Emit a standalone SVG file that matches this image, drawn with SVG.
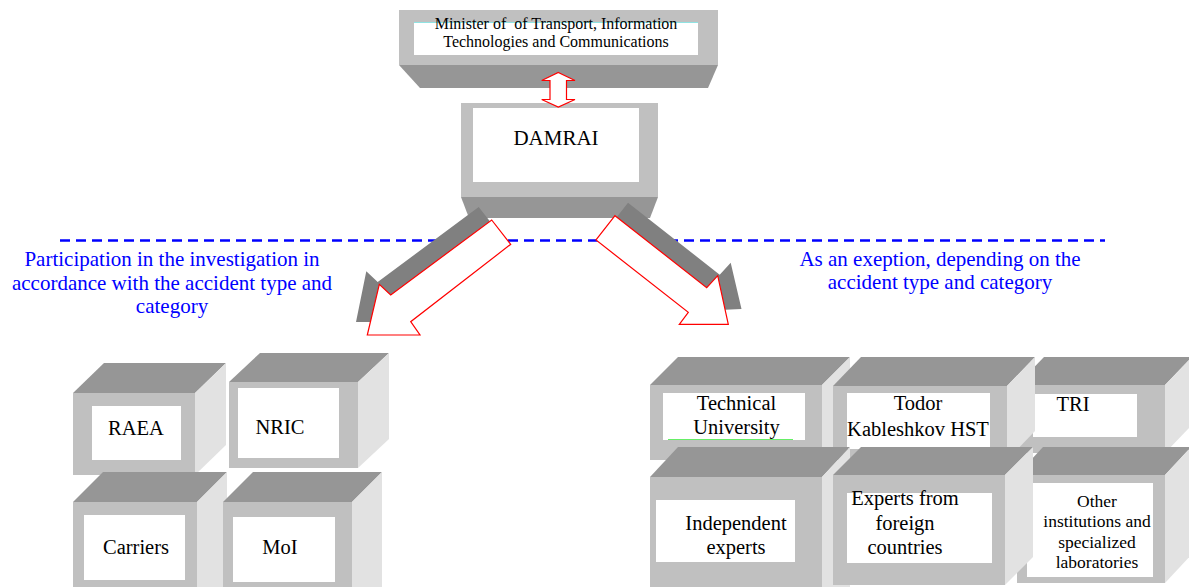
<svg xmlns="http://www.w3.org/2000/svg" width="1189" height="587" viewBox="0 0 1189 587">
<style>
.front{fill:#c0c0c0}
.top{fill:#969696}
.side{fill:#e2e2e2}
.inner{fill:#ffffff}
.lbl{font-family:"Liberation Serif","Times New Roman",serif;font-size:20.5px;fill:#000;text-anchor:middle}
.small{font-size:17.5px}
.blue{font-family:"Liberation Serif","Times New Roman",serif;font-size:21px;fill:#0000ff;text-anchor:middle}
.shadow{fill:#808080}
.arrow{fill:#ffffff;stroke:#ff0000;stroke-width:1.2;stroke-linejoin:miter}
.sep{stroke:#0000ff;stroke-width:2.6;stroke-dasharray:10 6;fill:none}
</style>
<rect width="1189" height="587" fill="#ffffff"/>

<line class="sep" x1="60" y1="240.5" x2="1105" y2="240.5"/>

<g id="minister">
  <rect class="front" x="399" y="10" width="319" height="55"/>
  <polygon class="top" points="399,65 718,65 708,88 420,88"/>
  <rect class="inner" x="414" y="22" width="284" height="33"/>
  <line x1="414" y1="22.5" x2="698" y2="22.5" stroke="#8fe3e3" stroke-width="1"/>
  <text class="lbl" style="font-size:16px;white-space:pre" xml:space="preserve" x="556" y="28.5">Minister of  of Transport, Information</text>
  <text class="lbl" style="font-size:16px" x="556" y="47">Technologies and Communications</text>
</g>

<g id="damrai">
  <rect class="front" x="461" y="103" width="197" height="94"/>
  <polygon class="top" points="461,197 658,197 650,218 469,218"/>
  <rect class="inner" x="473" y="108" width="166" height="74"/>
  <text class="lbl" style="font-size:21px" x="556" y="145">DAMRAI</text>
</g>

<g id="connectors">
  <polygon class="arrow" points="558.3,72.5 575,80.5 566.5,80.5 566.5,99.5 575,99.5 558.3,107 541.7,99.5 550,99.5 550,80.5 541.7,80.5"/>
  <polygon class="shadow" points="478.7,207 497.7,231.3 397.7,308.7 407,322 356,322 366.3,271.3 377.7,282"/>
  <polygon class="arrow" points="491.7,220 510.7,244.3 410.7,321.7 420,335 367.3,335 379.3,284.3 390.7,295"/>
  <polygon class="shadow" points="628,202.7 719.7,274.7 730.7,262.7 741.5,309 692.3,311.3 701.3,299.3 609,227"/>
  <polygon class="arrow" points="615,215.7 706.7,287.7 717.7,275.7 728.3,324.3 679.3,324.3 688.3,312.3 596,240"/>
</g>

<g id="label-left">
  <text class="blue" x="172" y="266">Participation in the investigation in</text>
  <text class="blue" x="172" y="290">accordance with the accident type and</text>
  <text class="blue" x="172" y="313">category</text>
</g>
<g id="label-right">
  <text class="blue" x="940" y="266">As an exeption, depending on the</text>
  <text class="blue" x="940" y="289">accident type and category</text>
</g>

<g id="raea">
  <polygon class="top" points="73,393 104,363 226,363 195,393"/>
  <polygon class="side" points="195,393 226,363 226,445 195,475"/>
  <rect class="front" x="73" y="393" width="122" height="82"/>
  <rect class="inner" x="92" y="406" width="89" height="54"/>
  <text class="lbl" x="136" y="435">RAEA</text>
</g>
<g id="nric">
  <polygon class="top" points="229,382 260,353 389,353 358,382"/>
  <polygon class="side" points="358,382 389,353 389,439 358,468"/>
  <rect class="front" x="229" y="382" width="129" height="86"/>
  <rect class="inner" x="238" y="388" width="101" height="70"/>
  <text class="lbl" x="280" y="434">NRIC</text>
</g>
<g id="carriers">
  <polygon class="top" points="73,502 103,472 227,472 197,502"/>
  <polygon class="side" points="197,502 227,472 227,587 197,592"/>
  <rect class="front" x="73" y="502" width="124" height="90"/>
  <rect class="inner" x="84" y="515" width="101" height="65"/>
  <text class="lbl" x="136" y="554">Carriers</text>
</g>
<g id="moi">
  <polygon class="top" points="223,502 253,472 382,472 352,502"/>
  <polygon class="side" points="352,502 382,472 382,587 352,592"/>
  <rect class="front" x="223" y="502" width="129" height="90"/>
  <rect class="inner" x="233" y="517" width="102" height="65"/>
  <text class="lbl" x="280" y="554">MoI</text>
</g>

<g id="tri">
  <polygon class="top" points="1017,385 1044,357 1192,357 1165,385"/>
  <polygon class="side" points="1165,385 1192,357 1192,425 1165,453"/>
  <rect class="front" x="1017" y="385" width="148" height="68"/>
  <rect class="inner" x="1033" y="394" width="104" height="43"/>
  <text class="lbl" x="1073" y="410.5">TRI</text>
</g>
<g id="technical-university">
  <polygon class="top" points="650,385 678,357 850,357 822,385"/>
  <polygon class="side" points="822,385 850,357 850,432 822,460"/>
  <rect class="front" x="650" y="385" width="172" height="75"/>
  <rect class="inner" x="663" y="393" width="142" height="47"/>
  <line x1="668" y1="439.5" x2="793" y2="439.5" stroke="#66ee66" stroke-width="1.2"/>
  <text class="lbl" x="736.5" y="410">Technical</text>
  <text class="lbl" x="736.5" y="434">University</text>
</g>
<g id="todor-kableshkov">
  <polygon class="top" points="833,386 861,357 1035,357 1007,386"/>
  <polygon class="side" points="1007,386 1035,357 1035,431 1007,460"/>
  <rect class="front" x="833" y="386" width="174" height="74"/>
  <rect class="inner" x="847" y="393" width="143" height="56"/>
  <text class="lbl" x="918" y="410">Todor</text>
  <text class="lbl" x="918" y="436">Kableshkov HST</text>
</g>

<g id="other-institutions">
  <polygon class="top" points="1017,475 1043,447 1191,447 1165,475"/>
  <polygon class="side" points="1165,475 1191,447 1191,555 1165,583"/>
  <rect class="front" x="1017" y="475" width="148" height="108"/>
  <rect class="inner" x="1027" y="483" width="126" height="94"/>
  <text class="lbl small" x="1097" y="506.5">Other</text>
  <text class="lbl small" x="1097" y="527">institutions and</text>
  <text class="lbl small" x="1097" y="547.5">specialized</text>
  <text class="lbl small" x="1097" y="568">laboratories</text>
</g>
<g id="independent-experts">
  <polygon class="top" points="650,477 678,447 850,447 822,477"/>
  <polygon class="side" points="822,477 850,447 850,587 822,589"/>
  <rect class="front" x="650" y="477" width="172" height="112"/>
  <rect class="inner" x="656" y="500" width="139" height="62"/>
  <text class="lbl" x="736" y="530">Independent</text>
  <text class="lbl" x="736" y="554">experts</text>
</g>
<g id="foreign-experts">
  <polygon class="top" points="833,475 861,447 1033,447 1005,475"/>
  <polygon class="side" points="1005,475 1033,447 1033,557 1005,585"/>
  <rect class="front" x="833" y="475" width="172" height="110"/>
  <rect class="inner" x="847" y="493" width="145" height="70"/>
  <text class="lbl" x="905" y="505">Experts from</text>
  <text class="lbl" x="905" y="530">foreign</text>
  <text class="lbl" x="905" y="554">countries</text>
</g>
</svg>
